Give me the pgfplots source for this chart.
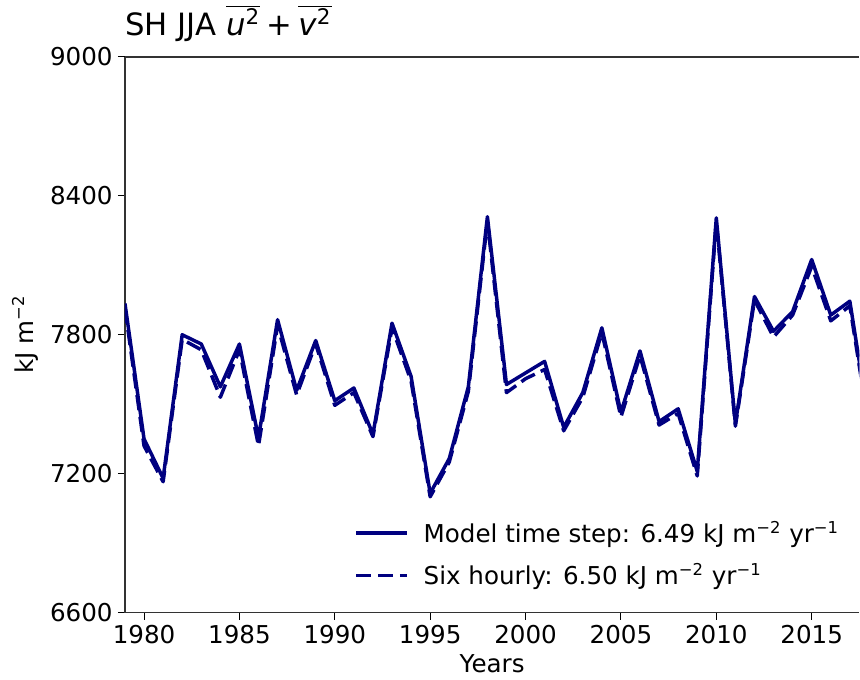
\documentclass[border=0pt]{standalone}
\usepackage{pgfplots}
\pgfplotsset{compat=1.18}
\usepackage{fontspec}
\setmainfont{DejaVu Sans}
\definecolor{navyc}{RGB}{0,0,128}
\pgfplotstableread{
year model six
1979 7935 7915
1980 7350 7320
1981 7180 7165
1982 7800 7780
1983 7760 7735
1984 7575 7530
1985 7760 7735
1986 7355 7320
1987 7865 7840
1988 7560 7540
1989 7775 7760
1990 7515 7495
1991 7570 7550
1992 7370 7360
1993 7850 7830
1994 7620 7600
1995 7115 7100
1996 7265 7250
1997 7575 7555
1998 8310 8290
1999 7585 7550
2000 7635 7610
2001 7685 7650
2002 7400 7385
2003 7550 7530
2004 7830 7810
2005 7465 7445
2006 7730 7710
2007 7425 7410
2008 7480 7460
2009 7210 7190
2010 8305 8290
2011 7415 7405
2012 7965 7950
2013 7815 7790
2014 7900 7885
2015 8125 8095
2016 7885 7860
2017 7945 7925
2018 7420 7400
}\datatable
\begin{document}
\begin{tikzpicture}
\begin{axis}[
  at={(0,0)}, anchor=south west,
  scale only axis,
  width=358.5pt, height=271.2pt,
  xmin=1979, xmax=2017.5,
  ymin=6600, ymax=9000,
  axis y line*=left,
  axis x line*=box,
  xtick={1980,1985,...,2015},
  ytick={6600,7200,7800,8400,9000},
  minor tick num=0,
  tick align=outside,
  xtick pos=bottom, ytick pos=left,
  major tick length=3.5pt,
  every tick/.style={black, line width=0.5pt},
  axis line style={line width=0.6pt, black!80},
  /pgf/number format/assume math mode=true,
  /pgf/number format/1000 sep={},
  tick label style={font=\fontsize{12}{14}\selectfont},
  xticklabel style={yshift=1pt},
  yticklabel style={xshift=1pt},
  xlabel={Years},
  ylabel={kJ m\textsuperscript{−2}},
  label style={font=\fontsize{12}{14}\selectfont},
  xlabel style={yshift=1.5pt},
  ylabel style={yshift=-1pt},
  title={SH JJA $\overline{\mbox{\textit{u}\textsuperscript{2}}}$\hspace{3pt}+\hspace{3pt}$\overline{\mbox{\textit{v}\textsuperscript{2}}}$},
  title style={at={(0,1)}, anchor=base west, inner sep=0pt, yshift=4.4pt, font=\fontsize{15}{18}\selectfont},
  legend style={draw=none, fill=none, at={(0.987,0.029)}, anchor=south east,
    font=\fontsize{12}{14}\selectfont, row sep=5pt, cells={anchor=west}},
  legend cell align=left,
  legend image code/.code={\draw[#1] (0pt,0pt) -- (25pt,0pt); \path[draw=none] (0pt,0pt) -- (31pt,0pt);},
]
\addplot[navyc, line width=1.7pt, line join=round] table[x=year, y=model] {\datatable};
\addlegendentry{Model time step: 6.49 kJ m\textsuperscript{−2} yr\textsuperscript{−1}}
\addplot[navyc, line width=1.7pt, dash pattern=on 7.5pt off 3.2pt, line join=round] table[x=year, y=six] {\datatable};
\addlegendentry{Six hourly: 6.50 kJ m\textsuperscript{−2} yr\textsuperscript{−1}}
\end{axis}
\path[use as bounding box] (-61pt,-32.2pt) rectangle (358.5pt,299pt);
\end{tikzpicture}
\end{document}
